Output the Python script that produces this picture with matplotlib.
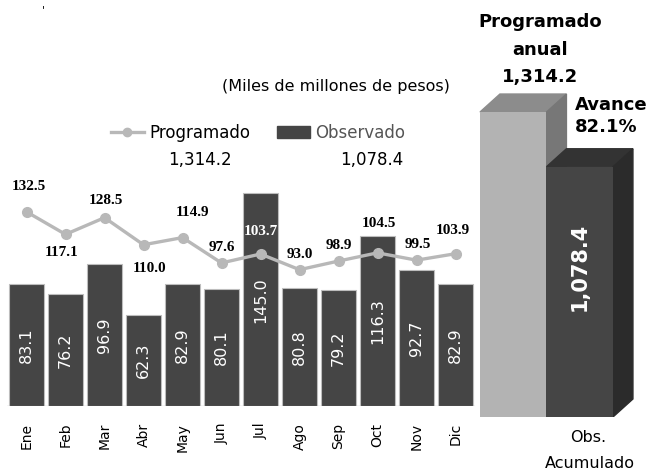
import matplotlib
matplotlib.use("Agg")
import matplotlib.pyplot as plt
from matplotlib.lines import Line2D
from matplotlib.patches import Patch, Polygon

# monthly data (miles de millones de pesos)
meses = ["Ene", "Feb", "Mar", "Abr", "May", "Jun", "Jul", "Ago", "Sep", "Oct", "Nov", "Dic"]
observado = [83.1, 76.2, 96.9, 62.3, 82.9, 80.1, 145.0, 80.8, 79.2, 116.3, 92.7, 82.9]
programado = [132.5, 117.1, 128.5, 110.0, 114.9, 97.6, 103.7, 93.0, 98.9, 104.5, 99.5, 103.9]

# accumulated totals
acum_labels = ["Programado anual", "Obs. Acumulado"]
acum_values = [1314.2, 1078.4]
avance = "82.1%"

# offsets of the line labels (points), picked by eye
lbl_dx = [2, -3, 1, 4, 7, 0, 0, 0, 0, 1, 1, -2]
lbl_dy = [18, -13, 12, -17, 18, 11, 16, 11, 11, 21, 11, 17]

W, H = 662, 471
fig = plt.figure(figsize=(W / 100, H / 100), dpi=100)
fig.patch.set_facecolor("white")

bar_col = "#454545"
line_col = "#b8b8b8"

# ---- monthly chart ----
ax = fig.add_axes([7 / W, (H - 406) / H, 468 / W, 406 / H])
x = list(range(len(meses)))
ax.bar(x, observado, width=0.9, color=bar_col, edgecolor="#bdbdbd", linewidth=0.8, zorder=2)
ax.plot(x, programado, color=line_col, lw=2.4, marker="o", ms=7, zorder=3)
ax.axhline(0, color="#cccccc", lw=1, zorder=1)
ax.set_xlim(-0.5, 11.5)
ax.set_ylim(0, 277)

for i, v in enumerate(observado):
    ax.text(i, v / 2, f"{v:.1f}", rotation=90, ha="center", va="center",
            color="white", fontsize=11.5, zorder=4)

for i, v in enumerate(programado):
    col = "white" if i == 6 else "black"
    ax.annotate(f"{v:.1f}", (i, v), xytext=(lbl_dx[i], lbl_dy[i]),
                textcoords="offset points", ha="center", va="center",
                family="Liberation Serif", weight="bold", fontsize=11,
                color=col, zorder=5)

ax.set_xticks(x)
ax.set_xticklabels(meses, rotation=90, fontsize=10)
ax.tick_params(axis="x", length=0, pad=12)
ax.set_yticks([])
for s in ax.spines.values():
    s.set_visible(False)
ax.patch.set_alpha(0)

fig.text(336 / W, 1 - 87 / H, "(Miles de millones de pesos)", ha="center", va="center", fontsize=11.5)
handles = [Line2D([], [], color=line_col, lw=2.4, marker="o", ms=6),
           Patch(color=bar_col)]
leg = fig.legend(handles, ["Programado", "Observado"], loc="center",
                 bbox_to_anchor=(258 / W, 1 - 133 / H), ncol=2, frameon=False,
                 fontsize=12, handlelength=2.0, handletextpad=0.3, columnspacing=1.6)
leg.get_texts()[1].set_color("#555555")
fig.text(200 / W, 1 - 160 / H, f"{acum_values[0]:,.1f}", ha="center", va="center", fontsize=12)
fig.text(372 / W, 1 - 160 / H, f"{acum_values[1]:,.1f}", ha="center", va="center", fontsize=12)
fig.text(43 / W, 1 - 10 / H, "'", ha="center", va="center", fontsize=8)

# ---- accumulated 3D bars ----
ax2 = fig.add_axes([470 / W, (H - 417) / H, 192 / W, 417 / H])
ax2.set_xlim(-0.65, 2.237)
ax2.set_ylim(0, 1797)
ax2.axis("off")
ax2.patch.set_alpha(0)

dx, dy = 0.30, 77.6
faces = [("#b3b3b3", "#8c8c8c", "#777777"), (bar_col, "#333333", "#2b2b2b")]
for i, v in enumerate(acum_values):
    front, top, side = faces[i]
    l, r = i - 0.5, i + 0.5
    ax2.add_patch(Polygon([(l, v), (l + dx, v + dy), (r + dx, v + dy), (r, v)],
                          closed=True, color=top, zorder=2 + i * 3))
    ax2.add_patch(Polygon([(r, 0), (r + dx, dy), (r + dx, v + dy), (r, v)],
                          closed=True, color=side, zorder=2 + i * 3))
    ax2.bar(i, v, width=1.0, color=front, zorder=3 + i * 3)

ax2.text(1, acum_values[1] * 0.6, f"{acum_values[1]:,.1f}", rotation=90, ha="center",
         va="center", color="white", fontsize=15, weight="bold", zorder=10)

fig.text(540 / W, 1 - 22 / H, "Programado", ha="center", va="center", fontsize=13, weight="bold")
fig.text(540 / W, 1 - 50 / H, "anual", ha="center", va="center", fontsize=13, weight="bold")
fig.text(540 / W, 1 - 77 / H, f"{acum_values[0]:,.1f}", ha="center", va="center", fontsize=13, weight="bold")
fig.text(575 / W, 1 - 105 / H, "Avance", ha="left", va="center", fontsize=13, weight="bold")
fig.text(575 / W, 1 - 127 / H, avance, ha="left", va="center", fontsize=13, weight="bold")
fig.text(588 / W, 1 - 438 / H, "Obs.", ha="center", va="center", fontsize=11.5)
fig.text(590 / W, 1 - 464 / H, "Acumulado", ha="center", va="center", fontsize=11.5)

fig.savefig("out.png", dpi=100)
